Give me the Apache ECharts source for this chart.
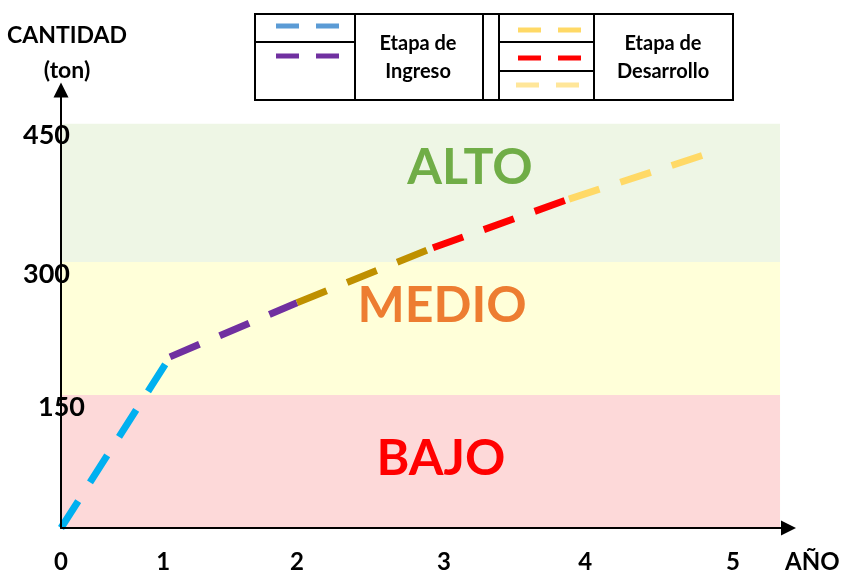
<!DOCTYPE html>
<html>
<head>
<meta charset="utf-8">
<script src="https://cdn.jsdelivr.net/npm/echarts@6/dist/echarts.min.js"></script>
<style>html,body{margin:0;padding:0;background:#fff}#c{width:843px;height:573px}</style>
</head>
<body>
<div id="c"></div>
<script>
// ---- data ----
const xTickLabels = ['0', '1', '2', '3', '4', '5'];
const xTickPos = [0, 0.76, 1.756, 2.85, 3.9, 5.0];
const yTickLabels = ['150', '300', '450'];
const yTickPos = [150, 300, 456];
const lineX = [0, 0.811, 1.756, 2.768, 3.78, 4.829];
const lineY = [0, 193, 254, 316, 371, 423];
const stageColors = ['#00B0F0', '#7030A0', '#BF9000', '#FF0000', '#FFD966'];
const bandNames = ['BAJO', 'MEDIO', 'ALTO'];
const bandFrom = [0, 150, 300];
const bandTo = [150, 300, 456];
const bandFill = ['#FDD9D9', '#FFFFD9', '#EEF6E5'];
const bandTextColor = ['#FF0000', '#ED7D31', '#70AD47'];
const bandLabelX = [2.827, 2.835, 3.043];
const bandLabelY = [78, 250, 406];
const bandXEnd = 5.35;

const FONT = 'Lato';
const chart = echarts.init(document.getElementById('c'), null, {renderer: 'canvas'});

const segSeries = stageColors.map((col, i) => ({
  type: 'line',
  silent: true,
  symbol: 'none',
  z: 3,
  data: [[lineX[i], lineY[i]], [lineX[i + 1], lineY[i + 1]]],
  lineStyle: {color: col, width: 7, type: [32, 22], cap: 'butt'}
}));

const bandSeries = {
  type: 'line',
  silent: true,
  data: [],
  z: 1,
  markArea: {
    silent: true,
    data: bandNames.map((n, i) => [
      {xAxis: 0, yAxis: bandFrom[i], itemStyle: {color: bandFill[i]}},
      {xAxis: bandXEnd, yAxis: bandTo[i]}
    ])
  }
};

const labelSeries = {
  type: 'scatter',
  silent: true,
  symbolSize: 1,
  itemStyle: {color: 'rgba(0,0,0,0)', opacity: 1},
  z: 4,
  data: bandNames.map((n, i) => ({
    value: [bandLabelX[i], bandLabelY[i]],
    name: n,
    label: {color: bandTextColor[i]}
  })),
  label: {
    show: true, position: 'inside', formatter: p => p.name,
    fontFamily: FONT, fontWeight: 'bold', fontSize: 50, opacity: 1
  },
  labelLayout: {hideOverlap: false}
};

const lx = (x0, x1, y, c) => ({type: 'line', shape: {x1: x0, y1: y, x2: x1, y2: y}, style: {stroke: c, lineWidth: 5, lineDash: [23, 17]}});
const bl = (x1, y1, x2, y2) => ({type: 'line', shape: {x1, y1, x2, y2}, style: {stroke: '#000', lineWidth: 2}});
const tx = (x, y, t) => ({type: 'text', x, y, style: {text: t, fill: '#000', font: 'bold 20px ' + FONT, textAlign: 'center', textVerticalAlign: 'middle'}});

const legend = [
  {type: 'rect', shape: {x: 255, y: 14, width: 478, height: 86}, style: {fill: '#fff', stroke: '#000', lineWidth: 2}},
  bl(355, 14, 355, 100), bl(483, 14, 483, 100), bl(499, 14, 499, 100), bl(594, 14, 594, 100),
  bl(255, 42, 355, 42), bl(499, 42, 594, 42), bl(499, 71, 594, 71),
  lx(276, 340, 26, '#5B9BD5'), lx(276, 340, 56, '#7030A0'),
  lx(518, 582, 30, '#FFD966'), lx(518, 582, 58, '#FF0000'), lx(516, 580, 85, '#FFE699'),
  tx(418, 44, 'Etapa de'), tx(418, 72, 'Ingreso'),
  tx(663, 44, 'Etapa de'), tx(663, 72, 'Desarrollo')
];

chart.setOption({
  animation: false,
  backgroundColor: '#fff',
  grid: {left: 61, right: 54.5, top: 90, bottom: 45, containLabel: false, outerBoundsMode: 'none'},
  xAxis: {
    type: 'value', min: 0, max: 5.413, z: 10,
    splitLine: {show: false}, axisTick: {show: false},
    axisLine: {lineStyle: {color: '#000', width: 2}, symbol: ['none', 'triangle'], symbolSize: [15, 15]},
    axisLabel: {
      customValues: xTickPos,
      formatter: v => { const i = xTickPos.findIndex(p => Math.abs(p - v) < 1e-6); return i >= 0 ? xTickLabels[i] : ''; },
      fontFamily: FONT, fontWeight: 'bold', fontSize: 24, color: '#000', margin: 22
    },
    name: 'AÑO', nameLocation: 'end', nameGap: -3.5,
    nameTextStyle: {fontFamily: FONT, fontWeight: 'bold', fontSize: 24, color: '#000', align: 'left', verticalAlign: 'top', lineHeight: 68}
  },
  yAxis: {
    type: 'value', min: 0, max: 494, z: 10,
    splitLine: {show: false}, axisTick: {show: false},
    axisLine: {lineStyle: {color: '#000', width: 2}, symbol: ['none', 'triangle'], symbolSize: [15, 15]},
    axisLabel: {
      customValues: yTickPos,
      formatter: v => { const i = yTickPos.findIndex(p => Math.abs(p - v) < 1e-6); if (i < 0) return ''; return (i === 0 ? '{b|' : '{a|') + yTickLabels[i] + '}'; },
      align: 'left', verticalAlign: 'top', margin: 38,
      rich: {
        a: {fontFamily: FONT, fontWeight: 'bold', fontSize: 27, color: '#000', lineHeight: 24},
        b: {fontFamily: FONT, fontWeight: 'bold', fontSize: 27, color: '#000', lineHeight: 24, padding: [0, 0, 0, 15]}
      }
    },
    name: 'CANTIDAD\n(ton)', nameLocation: 'end', nameGap: 2,
    nameTextStyle: {fontFamily: FONT, fontWeight: 'bold', fontSize: 23, color: '#000', align: 'center', verticalAlign: 'bottom', lineHeight: 35, padding: [0, 0, 0, 12]}
  },
  series: [bandSeries].concat(segSeries, [labelSeries]),
  graphic: legend
});
</script>
</body>
</html>
